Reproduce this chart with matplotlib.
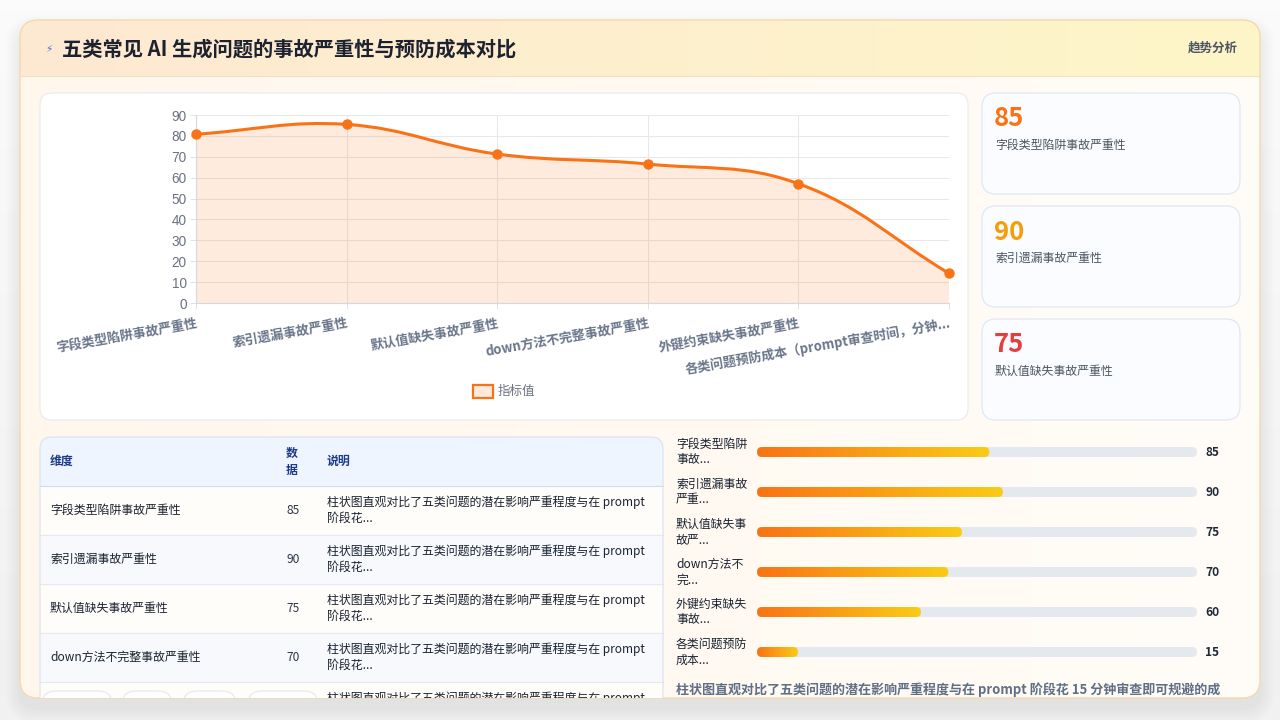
import numpy as np
import matplotlib
matplotlib.use('Agg')
import matplotlib.pyplot as plt
from matplotlib.patches import FancyBboxPatch, Rectangle, PathPatch
from matplotlib.path import Path
from matplotlib.colors import LinearSegmentedColormap

plt.rcParams['font.family'] = ['Noto Sans CJK SC', 'DejaVu Sans']

# ---------------- data ----------------
title = '五类常见 AI 生成问题的事故严重性与预防成本对比'
header_tag = '趋势分析'
categories = ['字段类型陷阱事故严重性', '索引遗漏事故严重性', '默认值缺失事故严重性',
              'down方法不完整事故严重性', '外键约束缺失事故严重性',
              '各类问题预防成本（prompt审查时间，分钟...']
values = [85, 90, 75, 70, 60, 15]
# values as they sit on the trend chart's own y axis
chart_values = [80.8, 85.5, 71.3, 66.5, 57.1, 14.2]
y_ticks = [0, 10, 20, 30, 40, 50, 60, 70, 80, 90]
legend_label = '指标值'
kpi_values = [85, 90, 75]
kpi_labels = ['字段类型陷阱事故严重性', '索引遗漏事故严重性', '默认值缺失事故严重性']
kpi_colors = ['#f97316', '#f59e0b', '#e53e3e']
table_headers = ['维度', '数\n据', '说明']
table_dims = ['字段类型陷阱事故严重性', '索引遗漏事故严重性', '默认值缺失事故严重性',
              'down方法不完整事故严重性', '']
table_vals = ['85', '90', '75', '70', '']
table_desc = ['柱状图直观对比了五类问题的潜在影响严重程度与在 prompt\n阶段花...'] * 5
bar_labels = ['字段类型陷阱\n事故...', '索引遗漏事故\n严重...', '默认值缺失事\n故严...',
              'down方法不\n完...', '外键约束缺失\n事故...', '各类问题预防\n成本...']
bar_values = [85, 90, 75, 70, 60, 15]
bar_scale_max = 161
footer_text = '柱状图直观对比了五类问题的潜在影响严重程度与在 prompt 阶段花 15 分钟审查即可规避的成'

# ---------------- canvas ----------------
W, H = 1280, 720
fig = plt.figure(figsize=(W / 100, H / 100), dpi=100)
fig.patch.set_facecolor('#f8f8f8')
bg = fig.add_axes([0, 0, 1, 1])
bg.set_xlim(0, W); bg.set_ylim(H, 0); bg.axis('off')

clip_rect = Rectangle((0, 0), W, 698, transform=bg.transData)


def px(x0, y0, x1, y1):
    return [x0 / W, 1 - y1 / H, (x1 - x0) / W, (y1 - y0) / H]


def rbox(x0, y0, x1, y1, r, fc, ec='none', lw=0.8, z=1, alpha=1.0, clip=False):
    p = FancyBboxPatch((x0, y0), x1 - x0, y1 - y0,
                       boxstyle=f'round,pad=0,rounding_size={r}',
                       fc=fc, ec=ec, lw=lw, zorder=z, alpha=alpha)
    bg.add_patch(p)
    if clip:
        p.set_clip_path(clip_rect)
    return p


def txt(x, y, s, clip=False, **kw):
    t = bg.text(x, y, s, **kw)
    if clip:
        t.set_clip_on(True)
        t.set_clip_path(clip_rect)
    return t


grad = np.linspace(0, 1, 256).reshape(1, -1)

# page background: lighter at top, slightly darker at bottom
bg.imshow(np.linspace(0, 1, 64).reshape(-1, 1),
          cmap=LinearSegmentedColormap.from_list('page', ['#fbfbfb', '#f1f1f1']),
          extent=(0, W, H, 0), aspect='auto', zorder=0.1)

# card shadow
for k in range(1, 16):
    rbox(20 - k, 20 - k + 10, 1260 + k, 698 + k + 10, 18 + k, '#000000', z=0.5, alpha=0.0045)

card = rbox(20, 20, 1260, 698, 18, '#fffaf3', z=1)
im = bg.imshow(grad, cmap=LinearSegmentedColormap.from_list('body', ['#fff7ec', '#fffcf7']),
               extent=(20, 1260, 698, 20), aspect='auto', zorder=1.1)
im.set_clip_path(card)
im = bg.imshow(grad, cmap=LinearSegmentedColormap.from_list('head', ['#fde9d2', '#fef6c8']),
               extent=(20, 1260, 76, 20), aspect='auto', zorder=1.2)
im.set_clip_path(card)
bg.plot([20, 1260], [76, 76], color='#f1e1c4', lw=0.8, zorder=1.3)
rbox(20, 20, 1260, 698, 18, 'none', ec='#f4d9ad', lw=1.0, z=1.4)

txt(45, 49, '⚡', fontsize=7.5, color='#4f6bed', va='center', family=['DejaVu Sans'], zorder=5)
txt(62, 49, title, fontsize=14.6, fontweight='bold', color='#1c2230', va='center', zorder=5)
txt(1238, 48, header_tag, fontsize=9, fontweight='bold', color='#4b5563', va='center', ha='right', zorder=5)

# chart panel
rbox(40, 93, 968, 420, 12, '#ffffff', ec='#e6eaf0', lw=0.8, z=2)
bg.add_patch(Rectangle((473, 385), 20, 13, fc='#feeadc', ec='#f97316', lw=1.6, zorder=3))
txt(498, 391.5, legend_label, fontsize=9, color='#6b7280', va='center', zorder=3)

# KPI cards
for i, (v, lab, c) in enumerate(zip(kpi_values, kpi_labels, kpi_colors)):
    y0 = 93 + 113 * i
    rbox(982, y0, 1240, y0 + 101, 14, '#fafcff', ec='#dce6f4', lw=0.8, z=2)
    txt(994, y0 + 26, str(v), fontsize=18.5, fontweight='bold', color=c, va='center', zorder=3)
    txt(995, y0 + 52, lab, fontsize=8.6, color='#4b5563', va='center', zorder=3)

# table
rbox(40, 437, 663, 500, 12, '#eef5ff', z=2, clip=True)
row_h = 49
for r in range(len(table_dims)):
    y0 = 486 + row_h * r
    p = Rectangle((40, y0), 623, row_h, fc='#fffdf9' if r % 2 == 0 else '#f7f9fd', ec='none', zorder=2.1)
    bg.add_patch(p); p.set_clip_path(clip_rect)
    ln, = bg.plot([40, 663], [y0, y0], color='#d0dcec' if r == 0 else '#e3e9f1', lw=0.8, zorder=2.2)
    ln.set_clip_path(clip_rect)
    yc = y0 + 24.5
    if table_dims[r]:
        txt(50, yc, table_dims[r], fontsize=8.6, color='#1a2332', va='center', zorder=3, clip=True)
    if table_vals[r]:
        txt(293, yc, table_vals[r], fontsize=8.6, color='#2d3748', va='center', ha='center', zorder=3, clip=True)
    l1, l2 = table_desc[r].split('\n')
    txt(327, y0 + 16, l1, fontsize=8.6, color='#1a2332', va='center', zorder=3, clip=True)
    txt(327, y0 + 32, l2, fontsize=8.6, color='#1a2332', va='center', zorder=3, clip=True)
for (a, b) in [(42, 112), (122, 172), (183, 236), (248, 318)]:
    rbox(a, 691, b, 730, 14, '#ffffff', ec='#e3e7ee', lw=0.8, z=2.5, clip=True)
rbox(40, 437, 663, 760, 12, 'none', ec='#d6e2f2', lw=0.8, z=3, clip=True)
txt(50, 461, table_headers[0], fontsize=8.6, fontweight='bold', color='#1e3a8a', va='center', zorder=3)
h1, h2 = table_headers[1].split('\n')
txt(292, 453, h1, fontsize=8.6, fontweight='bold', color='#1e3a8a', va='center', ha='center', zorder=3)
txt(292, 470, h2, fontsize=8.6, fontweight='bold', color='#1e3a8a', va='center', ha='center', zorder=3)
txt(327, 461, table_headers[2], fontsize=8.6, fontweight='bold', color='#1e3a8a', va='center', zorder=3)

# bar labels / values
for i, (lab, v) in enumerate(zip(bar_labels, bar_values)):
    l1, l2 = lab.split('\n')
    txt(676, 444 + 40 * i, l1, fontsize=8.6, color='#1a2332', va='center', zorder=3)
    txt(676, 460 + 40 * i, l2, fontsize=8.6, color='#1a2332', va='center', zorder=3)
    txt(1205, 452 + 40 * i, str(v), fontsize=8.6, fontweight='bold', color='#1f2937', va='center', zorder=3)

txt(676, 690, footer_text, fontsize=9.4, fontweight='bold', color='#5f6f86', va='center', zorder=3, clip=True)

bg.set_xlim(0, W); bg.set_ylim(H, 0)

# ---------------- trend chart ----------------
ax = fig.add_axes(px(196, 115, 949, 303))
ax.patch.set_alpha(0)
xs = np.arange(len(categories))
ax.set_xlim(0, len(categories) - 1)
ax.set_ylim(0, 90)
ax.set_xticks(xs)
ax.set_xticklabels(categories, rotation=10, ha='right', rotation_mode='anchor',
                   fontsize=9.4, color='#69758a', fontweight='bold')
ax.set_yticks(y_ticks)
ax.set_yticklabels([str(v) for v in y_ticks], fontsize=9.8, color='#6b7280',
                   family=['Liberation Sans', 'DejaVu Sans'])
ax.tick_params(axis='both', length=4.3, width=0.7, color='#dfe2e7')
ax.tick_params(axis='x', pad=5)
ax.tick_params(axis='y', pad=2.5)
ax.grid(True, color='#e6e8ec', lw=0.75)
ax.set_axisbelow(True)
for s in ['top', 'right']:
    ax.spines[s].set_visible(False)
for s in ['left', 'bottom']:
    ax.spines[s].set_color('#d5d9df'); ax.spines[s].set_linewidth(0.8)

pts = ax.transData.transform(np.column_stack([xs, chart_values]))
n = len(pts)
cp_prev = np.zeros_like(pts); cp_next = np.zeros_like(pts)
tension = 0.4
for i in range(n):
    prv = pts[i - 1] if i > 0 else pts[i]
    nxt = pts[i + 1] if i < n - 1 else pts[i]
    d01 = np.hypot(*(pts[i] - prv)); d12 = np.hypot(*(nxt - pts[i]))
    s = d01 + d12
    s01 = d01 / s if s else 0.0
    s12 = d12 / s if s else 0.0
    cp_prev[i] = pts[i] - tension * s01 * (nxt - prv)
    cp_next[i] = pts[i] + tension * s12 * (nxt - prv)
verts = [pts[0]]; codes = [Path.MOVETO]
for i in range(n - 1):
    verts += [cp_next[i], cp_prev[i + 1], pts[i + 1]]
    codes += [Path.CURVE4] * 3
verts_d = ax.transData.inverted().transform(np.array(verts))
fill_verts = np.vstack([verts_d, [[xs[-1], 0], [xs[0], 0], [xs[0], 0]]])
fill_codes = codes + [Path.LINETO, Path.LINETO, Path.CLOSEPOLY]
ax.add_patch(PathPatch(Path(fill_verts, fill_codes), fc='#f97316', alpha=0.14, ec='none', zorder=2))
ax.add_patch(PathPatch(Path(verts_d, codes), fc='none', ec='#f97316', lw=2.2, zorder=3,
                       capstyle='round', joinstyle='round'))
ax.plot(xs, chart_values, 'o', ms=6.5, color='#f97316', zorder=4, clip_on=False)

# ---------------- progress bars ----------------
bax = fig.add_axes(px(757, 432, 1197, 672))
bax.axis('off')
xu = bar_scale_max / 440.0
yu = 1 / 40.0
bar_h = 10 * yu
rr = 5 * xu
bar_cmap = LinearSegmentedColormap.from_list('bar', ['#f97316', '#facc15'])
for i, v in enumerate(bar_values):
    track = FancyBboxPatch((0, i - bar_h / 2), bar_scale_max, bar_h,
                           boxstyle=f'round,pad=0,rounding_size={rr}', mutation_aspect=yu / xu,
                           fc='#e4e8ef', ec='none', zorder=1)
    bax.add_patch(track)
    fp = FancyBboxPatch((0, i - bar_h / 2), v, bar_h,
                        boxstyle=f'round,pad=0,rounding_size={rr}', mutation_aspect=yu / xu,
                        fc='none', ec='none', zorder=2)
    bax.add_patch(fp)
    im = bax.imshow(grad, cmap=bar_cmap, extent=(0, v, i + bar_h / 2, i - bar_h / 2),
                    aspect='auto', zorder=2)
    im.set_clip_path(fp)
bax.set_xlim(0, bar_scale_max)
bax.set_ylim(len(bar_values) - 0.5, -0.5)

fig.savefig('out.png', dpi=100, facecolor=fig.get_facecolor())
